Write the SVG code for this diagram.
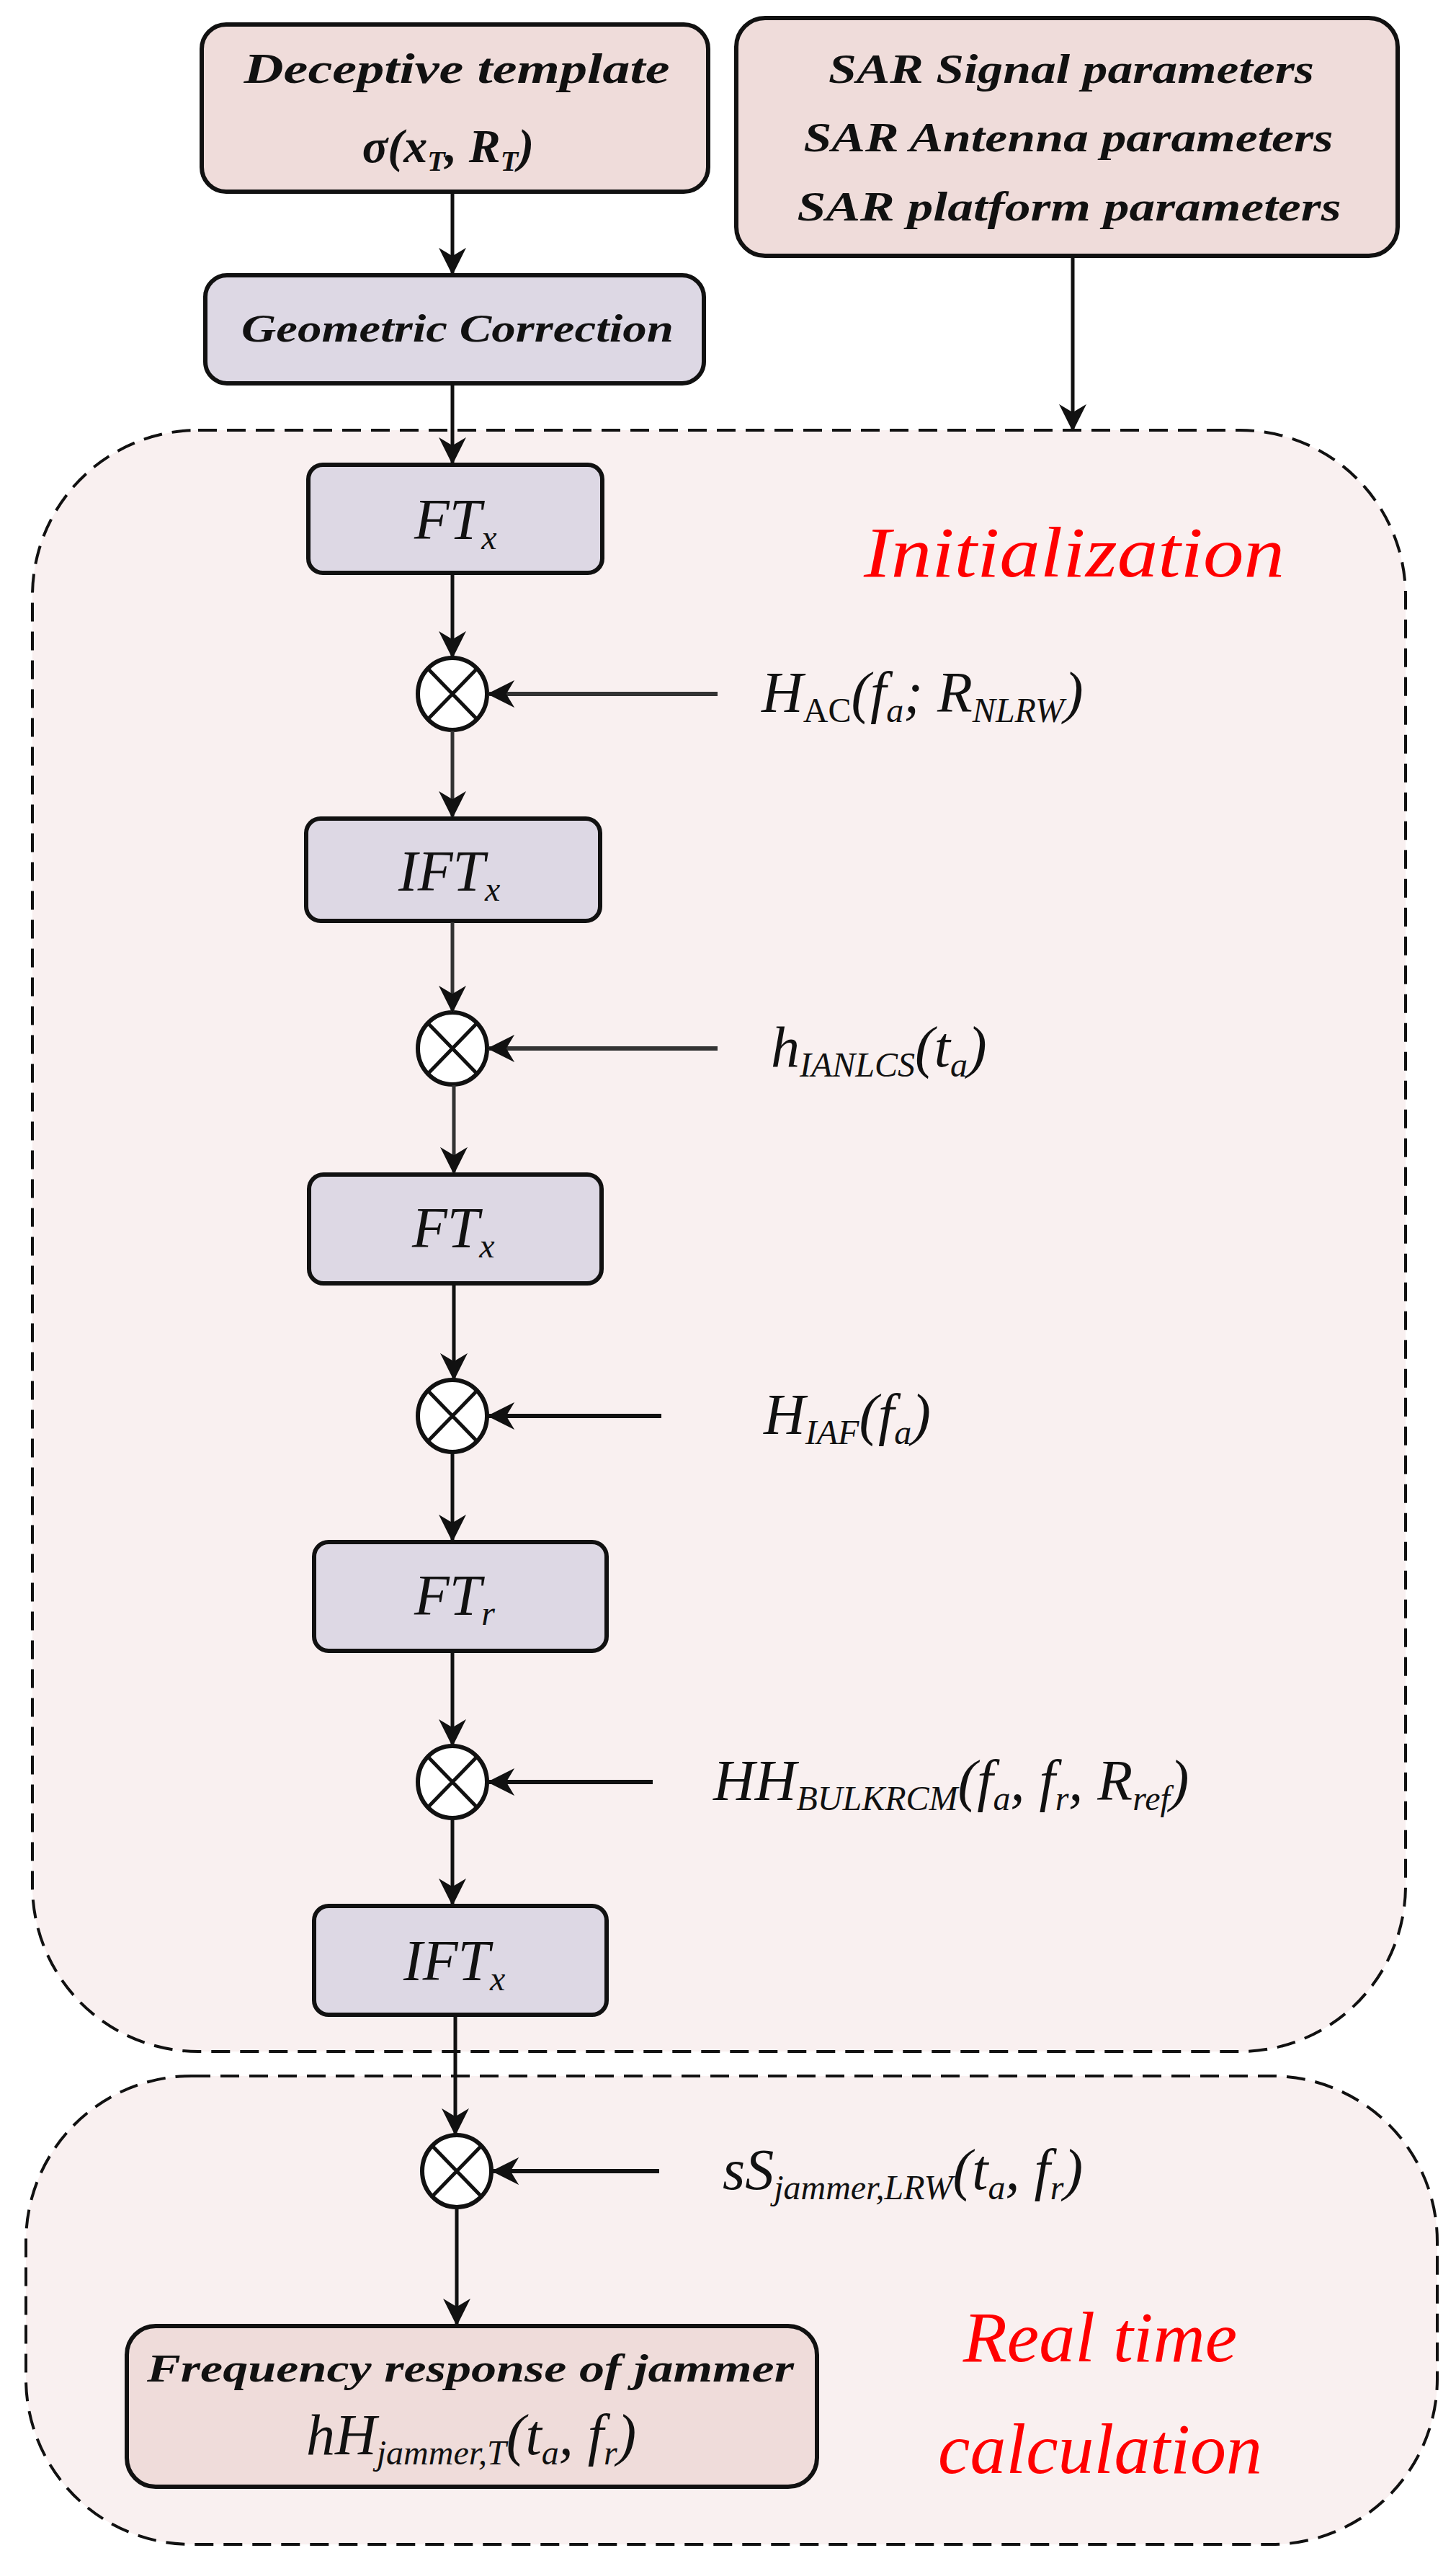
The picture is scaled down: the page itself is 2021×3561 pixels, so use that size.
<svg xmlns="http://www.w3.org/2000/svg" width="2021" height="3561" viewBox="0 0 2021 3561">
<style>
.pink{fill:#EFDCDA;stroke:#111;stroke-width:6}
.lav{fill:#DDD8E4;stroke:#111;stroke-width:6}
.zone{fill:#F9F0F0;stroke:#111;stroke-width:4;stroke-dasharray:26 14}
.t{font-family:"Liberation Serif",serif;font-style:italic;fill:#111;text-anchor:middle}
.b{font-weight:bold}
.m{font-family:"Liberation Serif",serif;font-style:italic;fill:#111;font-size:80px}
.red{font-family:"Liberation Serif",serif;font-style:italic;fill:#FF0000;font-size:100px;text-anchor:middle}
.e{fill:#fff;stroke:#111;stroke-width:6}
.c{stroke:#111;stroke-width:5;fill:none}
</style>
<defs>
<marker id="ah" viewBox="0 0 10 10" refX="9.5" refY="5" markerWidth="38" markerHeight="38" orient="auto" markerUnits="userSpaceOnUse"><path d="M0,0 L10,5 L0,10 L3,5 z" fill="#111"/></marker>
</defs>
<rect width="2021" height="3561" fill="#fff"/>
<g id="zone-init"><rect class="zone" x="45" y="597" width="1906" height="2250" rx="230"/><text class="red" x="1491" y="800" textLength="584" lengthAdjust="spacingAndGlyphs">Initialization</text></g>
<g id="zone-rt"><rect class="zone" x="36" y="2881" width="1959" height="650" rx="230"/><text class="red" x="1527" y="3277" font-size="92">Real time</text><text class="red" x="1527" y="3432" font-size="92">calculation</text></g>
<g id="n-template"><rect class="pink" x="280" y="34" width="703" height="232" rx="34"/><text class="t b" x="634" y="115" font-size="60" textLength="591" lengthAdjust="spacingAndGlyphs">Deceptive template</text><text class="t b" x="622" y="225" font-size="66">σ(x<tspan baseline-shift="-12" font-size="40">T</tspan><tspan baseline-shift="0">, R</tspan><tspan baseline-shift="-12" font-size="40">T</tspan><tspan baseline-shift="0">)</tspan></text></g>
<g id="n-sar"><rect class="pink" x="1022" y="25" width="918" height="330" rx="40"/><text class="t b" x="1487" y="115" font-size="56" textLength="674" lengthAdjust="spacingAndGlyphs">SAR Signal parameters</text><text class="t b" x="1483" y="210" font-size="56" textLength="735" lengthAdjust="spacingAndGlyphs">SAR Antenna parameters</text><text class="t b" x="1484" y="306" font-size="56" textLength="755" lengthAdjust="spacingAndGlyphs">SAR platform parameters</text></g>
<g id="n-geo"><rect class="lav" x="285" y="382" width="692" height="150" rx="30"/><text class="t b" x="635" y="474" font-size="54" textLength="600" lengthAdjust="spacingAndGlyphs">Geometric Correction</text></g>
<g id="n-ft1"><rect class="lav" x="428" y="645" width="408" height="150" rx="20"/><text class="m" x="575" y="748">FT<tspan baseline-shift="-14" font-size="48">x</tspan></text></g>
<g id="n-ift1"><rect class="lav" x="425" y="1136" width="408" height="142" rx="20" stroke="#333"/><text class="m" x="553" y="1236">IFT<tspan baseline-shift="-14" font-size="48">x</tspan></text></g>
<g id="n-ft2"><rect class="lav" x="429" y="1630" width="406" height="151" rx="20" stroke="#333"/><text class="m" x="572" y="1731">FT<tspan baseline-shift="-14" font-size="48">x</tspan></text></g>
<g id="n-ftr"><rect class="lav" x="436" y="2140" width="406" height="151" rx="20"/><text class="m" x="575" y="2241">FT<tspan baseline-shift="-14" font-size="48">r</tspan></text></g>
<g id="n-ift2"><rect class="lav" x="436" y="2645" width="406" height="151" rx="20"/><text class="m" x="560" y="2748">IFT<tspan baseline-shift="-14" font-size="48">x</tspan></text></g>
<g id="n-freq"><rect class="pink" x="176" y="3228" width="958" height="223" rx="40" stroke="#2a2222"/><text class="t b" x="653" y="3305" font-size="54" fill="#2a2222" textLength="898" lengthAdjust="spacingAndGlyphs">Frequency response of jammer</text><text class="m" x="425" y="3406" fill="#2a2222">hH<tspan baseline-shift="-14" font-size="48">jammer,T</tspan><tspan baseline-shift="0">(t</tspan><tspan baseline-shift="-14" font-size="48">a</tspan><tspan baseline-shift="0">, f</tspan><tspan baseline-shift="-14" font-size="48">r</tspan><tspan baseline-shift="0">)</tspan></text></g>
<g id="mults">
<g id="m1"><ellipse class="e" cx="628" cy="963" rx="48" ry="50" stroke="#333"/><path class="c" d="M594,928 L662,998 M662,928 L594,998" stroke="#333"/></g>
<g id="m2"><ellipse class="e" cx="628" cy="1455" rx="48" ry="50" stroke="#333"/><path class="c" d="M594,1420 L662,1490 M662,1420 L594,1490" stroke="#333"/></g>
<g id="m3"><ellipse class="e" cx="628" cy="1965" rx="48" ry="50"/><path class="c" d="M594,1930 L662,2000 M662,1930 L594,2000"/></g>
<g id="m4"><ellipse class="e" cx="628" cy="2473" rx="48" ry="50"/><path class="c" d="M594,2438 L662,2508 M662,2438 L594,2508"/></g>
<g id="m5"><ellipse class="e" cx="634" cy="3013" rx="48" ry="50"/><path class="c" d="M600,2978 L668,3048 M668,2978 L600,3048"/></g>
</g>
<g id="labels">
<text class="m" x="1057" y="988">H<tspan baseline-shift="-14" font-size="48" font-style="normal">AC</tspan><tspan baseline-shift="0">(f</tspan><tspan baseline-shift="-14" font-size="48">a</tspan><tspan baseline-shift="0">; R</tspan><tspan baseline-shift="-14" font-size="48">NLRW</tspan><tspan baseline-shift="0">)</tspan></text>
<text class="m" x="1070" y="1480">h<tspan baseline-shift="-14" font-size="48">IANLCS</tspan><tspan baseline-shift="0">(t</tspan><tspan baseline-shift="-14" font-size="48">a</tspan><tspan baseline-shift="0">)</tspan></text>
<text class="m" x="1060" y="1990">H<tspan baseline-shift="-14" font-size="48">IAF</tspan><tspan baseline-shift="0">(f</tspan><tspan baseline-shift="-14" font-size="48">a</tspan><tspan baseline-shift="0">)</tspan></text>
<text class="m" x="990" y="2498">HH<tspan baseline-shift="-14" font-size="48">BULKRCM</tspan><tspan baseline-shift="0">(f</tspan><tspan baseline-shift="-14" font-size="48">a</tspan><tspan baseline-shift="0">, f</tspan><tspan baseline-shift="-14" font-size="48">r</tspan><tspan baseline-shift="0">, R</tspan><tspan baseline-shift="-14" font-size="48">ref</tspan><tspan baseline-shift="0">)</tspan></text>
<text class="m" x="1003" y="3038">sS<tspan baseline-shift="-14" font-size="48">jammer,LRW</tspan><tspan baseline-shift="0">(t</tspan><tspan baseline-shift="-14" font-size="48">a</tspan><tspan baseline-shift="0">, f</tspan><tspan baseline-shift="-14" font-size="48">r</tspan><tspan baseline-shift="0">)</tspan></text>
</g>
<g id="connectors" class="c" marker-end="url(#ah)">
<path d="M628,268 V380"/>
<path d="M628,534 V643"/>
<path d="M1489,357 V597"/>
<path d="M628,797 V912"/>
<path d="M628,1014 V1134" stroke="#333"/>
<path d="M628,1280 V1404" stroke="#333"/>
<path d="M630,1506 V1628" stroke="#333"/>
<path d="M630,1783 V1914"/>
<path d="M628,2016 V2138"/>
<path d="M628,2293 V2422"/>
<path d="M628,2524 V2643"/>
<path d="M632,2798 V2962"/>
<path d="M634,3064 V3226"/>
<path d="M996,963 H678" stroke="#333" stroke-width="6"/>
<path d="M996,1455 H678" stroke="#333" stroke-width="6"/>
<path d="M918,1965 H678" stroke-width="6"/>
<path d="M906,2473 H678" stroke-width="6"/>
<path d="M915,3013 H684" stroke-width="6"/>
</g>
</svg>
